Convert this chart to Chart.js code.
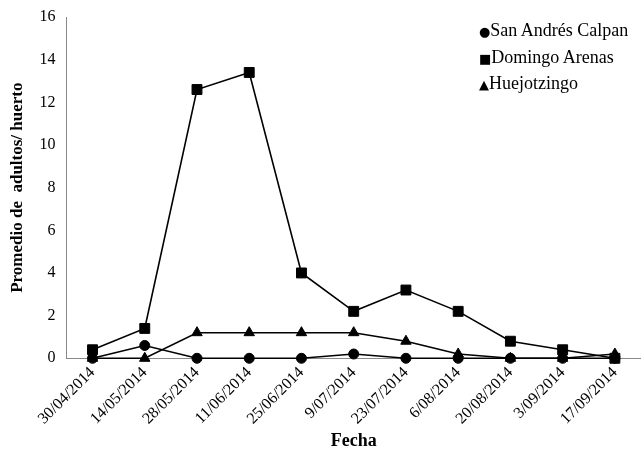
<!DOCTYPE html>
<html>
<head>
<meta charset="utf-8">
<script src="https://cdn.jsdelivr.net/npm/chart.js@4/dist/chart.umd.min.js"></script>
<style>
  body { margin: 0; background: #fff; }
  #wrap { position: relative; width: 641px; height: 456px; }
  #legend { position: absolute; left: 479px; top: 18px; font-family: "Liberation Serif", serif; font-size: 18px; color: #000; line-height: 25.5px; }
  #legend span { font-family: "DejaVu Sans", sans-serif; font-size: 13px; }
</style>
</head>
<body>
<div id="wrap">
  <canvas id="myChart" width="641" height="456"></canvas>
  <div id="legend">
    <div><span>●</span>San Andrés Calpan</div>
    <div><span>■</span>Domingo Arenas</div>
    <div><span>▲</span>Huejotzingo</div>
  </div>
</div>
<script>
const labels = ['30/04/2014', '14/05/2014', '28/05/2014', '11/06/2014', '25/06/2014', '9/07/2014',
  '23/07/2014', '6/08/2014', '20/08/2014', '3/09/2014', '17/09/2014'];
const sanAndres = [0, 0.6, 0, 0, 0, 0.2, 0, 0, 0, 0, 0];
const domingoArenas = [0.4, 1.4, 12.6, 13.4, 4.0, 2.2, 3.2, 2.2, 0.8, 0.4, 0];
const huejotzingo = [0, 0, 1.2, 1.2, 1.2, 1.2, 0.8, 0.2, 0, 0, 0.2];

function serie(label, values, style, radius) {
  return {
    label: label,
    data: values,
    borderColor: '#000',
    backgroundColor: '#000',
    borderWidth: 1.6,
    pointStyle: style,
    pointRadius: radius,
    pointBorderWidth: 1,
    clip: false,
    tension: 0
  };
}

const data = {
  labels: labels,
  datasets: [
    serie('San Andrés Calpan', sanAndres, 'circle', 5),
    serie('Domingo Arenas', domingoArenas, 'rect', 7),
    serie('Huejotzingo', huejotzingo, 'triangle', 6)
  ]
};

const config = {
  type: 'line',
  data: data,
  options: {
    responsive: false,
    animation: false,
    layout: { autoPadding: false, padding: { top: 17, right: 0, bottom: 0, left: 3 } },
    plugins: {
      legend: { display: false },
      tooltip: { enabled: false }
    },
    scales: {
      x: {
        offset: true,
        afterFit: function (scale) { scale.paddingRight = 0; },
        grid: { display: false, drawTicks: true, tickLength: 5 },
        border: { color: '#888', width: 1 },
        ticks: {
          color: '#000',
          font: { family: 'Liberation Serif', size: 16 },
          maxRotation: 45,
          minRotation: 45,
          padding: 0
        },
        title: {
          display: true,
          text: 'Fecha',
          color: '#000',
          font: { family: 'Liberation Serif', size: 18, weight: 'bold' },
          padding: { top: 2 }
        }
      },
      y: {
        min: 0,
        max: 16,
        ticks: {
          stepSize: 2,
          color: '#000',
          font: { family: 'Liberation Serif', size: 16 },
          padding: 6
        },
        grid: { display: false, drawTicks: true, tickLength: 5 },
        border: { color: '#888', width: 1 },
        title: {
          display: true,
          text: 'Promedio de  adultos/ huerto',
          color: '#000',
          font: { family: 'Liberation Serif', size: 17, weight: 'bold' },
          padding: { bottom: 6 }
        }
      }
    }
  }
};

var ctx = document.getElementById('myChart');
var myChart = new Chart(ctx, config);
</script>
</body>
</html>
